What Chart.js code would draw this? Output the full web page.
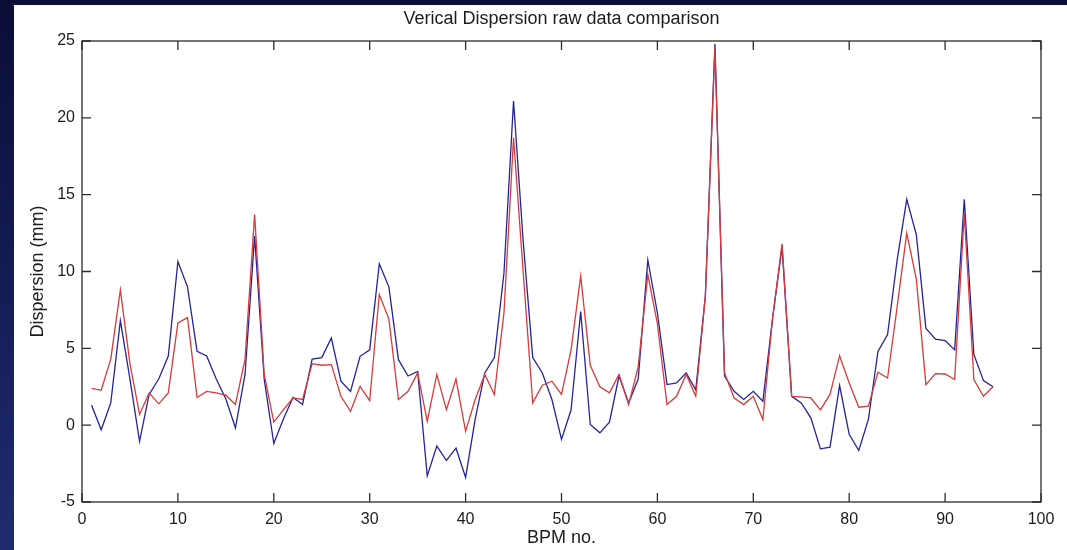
<!DOCTYPE html>
<html>
<head>
<meta charset="utf-8">
<script src="https://cdn.jsdelivr.net/npm/chart.js@4"></script>
<style>
  html, body { margin: 0; padding: 0; }
  body {
    width: 1067px; height: 550px; overflow: hidden; position: relative;
    background: linear-gradient(to bottom, #0b0d36 0%, #141c55 50%, #1f2c6e 100%);
  }
  #paper { position: absolute; left: 14px; top: 5px; right: 0; bottom: 0; background: #ffffff; }
  #myChart { position: absolute; left: 0; top: 0; }
</style>
</head>
<body>
<div id="paper"></div>
<canvas id="myChart" width="1067" height="550"></canvas>
<script>
var bpm = [1,2,3,4,5,6,7,8,9,10,11,12,13,14,15,16,17,18,19,20,
	21,22,23,24,25,26,27,28,29,30,31,32,33,34,35,36,37,38,39,40,
	41,42,43,44,45,46,47,48,49,50,51,52,53,54,55,56,57,58,59,60,
	61,62,63,64,65,66,67,68,69,70,71,72,73,74,75,76,77,78,79,80,
	81,82,83,84,85,86,87,88,89,90,91,92,93,94,95];

var blueValues = [1.3,-0.3,1.45,6.8,3.0,-1.05,2.0,3.0,4.5,10.65,
	9.0,4.8,4.5,3.0,1.7,-0.17,3.3,12.3,3.0,-1.2,
	0.4,1.8,1.35,4.3,4.4,5.67,2.86,2.2,4.48,4.9,
	10.5,9.0,4.26,3.2,3.5,-3.3,-1.36,-2.3,-1.5,-3.4,
	0.4,3.4,4.4,9.9,21.1,12.0,4.4,3.4,1.67,-0.93,
	1.0,7.4,0.04,-0.5,0.2,3.2,1.45,3.0,10.75,7.3,
	2.64,2.75,3.4,2.3,8.4,24.8,3.2,2.2,1.67,2.2,
	1.56,6.9,11.6,1.88,1.45,0.48,-1.54,-1.43,2.58,-0.6,
	-1.65,0.37,4.8,5.9,10.75,14.7,12.4,6.3,5.6,5.5,
	4.9,14.7,4.6,2.9,2.5];

var redValues = [2.4,2.27,4.3,8.8,4.0,0.7,2.1,1.39,2.1,6.65,
	7.0,1.8,2.2,2.1,1.95,1.35,4.3,13.7,3.3,0.2,
	1.0,1.77,1.67,4.0,3.9,3.94,1.88,0.9,2.53,1.6,
	8.5,6.9,1.67,2.2,3.4,0.26,3.3,1.0,3.0,-0.4,
	1.67,3.3,2.0,7.3,18.7,10.0,1.45,2.6,2.86,2.0,
	4.9,9.7,3.9,2.5,2.1,3.3,1.34,3.8,9.8,6.6,
	1.34,1.88,3.3,1.88,8.4,24.6,3.4,1.77,1.34,1.88,
	0.37,6.9,11.8,1.88,1.84,1.77,1.0,2.0,4.52,2.75,
	1.17,1.23,3.44,3.07,7.7,12.5,9.5,2.64,3.35,3.33,
	2.97,13.8,2.97,1.88,2.5];

var xTicks = [0,10,20,30,40,50,60,70,80,90,100];
var yTicks = [-5,0,5,10,15,20,25];

var textColor = "#1c1c1c";
var fontFamily = "'Liberation Sans', Arial, sans-serif";

function toPoints(values) {
	var pts = [];
	for (var i = 0; i < bpm.length; i++) {
		pts.push({ x: bpm[i], y: values[i] });
	}
	return pts;
}

// matlab style box with ticks pointing inwards
var boxPlugin = {
	id: "matlabBox",
	afterDraw: function(chart) {
		var ctx = chart.ctx;
		var a = chart.chartArea;
		var xs = chart.scales.x, ys = chart.scales.y;
		var len = 9;
		ctx.save();
		ctx.strokeStyle = "#2b2b2b";
		ctx.lineWidth = 1.3;
		ctx.strokeRect(a.left, a.top, a.right - a.left, a.bottom - a.top);
		ctx.beginPath();
		xTicks.forEach(function(v) {
			var px = xs.getPixelForValue(v);
			ctx.moveTo(px, a.bottom); ctx.lineTo(px, a.bottom - len);
			ctx.moveTo(px, a.top); ctx.lineTo(px, a.top + len);
		});
		yTicks.forEach(function(v) {
			var py = ys.getPixelForValue(v);
			ctx.moveTo(a.left, py); ctx.lineTo(a.left + len, py);
			ctx.moveTo(a.right, py); ctx.lineTo(a.right - len, py);
		});
		ctx.stroke();
		ctx.restore();
	}
};

var ctx = document.getElementById("myChart");

var myChart = new Chart(ctx, {
	type: "line",
	data: {
		datasets: [
			{
				label: "red",
				data: toPoints(redValues),
				borderColor: "#d83a3a",
				backgroundColor: "#d83a3a",
				borderWidth: 1.3,
				fill: false,
				tension: 0,
				pointRadius: 0,
				order: 0
			},
			{
				label: "blue",
				data: toPoints(blueValues),
				borderColor: "#23239a",
				backgroundColor: "#23239a",
				borderWidth: 1.3,
				fill: false,
				tension: 0,
				pointRadius: 0,
				order: 1
			}
		]
	},
	plugins: [boxPlugin],
	options: {
		responsive: false,
		animation: false,
		layout: { padding: { left: 0, right: 26, top: 0, bottom: 0 } },
		plugins: {
			legend: { display: false },
			tooltip: { enabled: false },
			title: {
				display: true,
				fullSize: false,
				text: "Verical Dispersion raw data comparison",
				color: textColor,
				font: { family: fontFamily, size: 18, weight: "normal" },
				padding: { top: 8, bottom: 11.4 }
			}
		},
		scales: {
			x: {
				type: "linear",
				min: 0,
				max: 100,
				border: { display: false },
				grid: { display: false, drawTicks: false },
				afterBuildTicks: function(scale) {
					scale.ticks = xTicks.map(function(v) { return { value: v }; });
				},
				afterFit: function(scale) { scale.height = 48; },
				ticks: {
					color: textColor,
					padding: 8,
					maxRotation: 0,
					font: { family: fontFamily, size: 16 }
				},
				title: {
					display: true,
					text: "BPM no.",
					color: textColor,
					font: { family: fontFamily, size: 18 },
					padding: { top: 0, bottom: 1 }
				}
			},
			y: {
				min: -5,
				max: 25,
				border: { display: false },
				grid: { display: false, drawTicks: false },
				afterBuildTicks: function(scale) {
					scale.ticks = yTicks.map(function(v) { return { value: v }; });
				},
				afterFit: function(scale) { scale.width = 82; },
				ticks: {
					color: textColor,
					padding: 7,
					font: { family: fontFamily, size: 16 }
				},
				title: {
					display: true,
					text: "Dispersion (mm)",
					color: textColor,
					font: { family: fontFamily, size: 18 },
					padding: { top: 27, bottom: 0 }
				}
			}
		}
	}
});
</script>
</body>
</html>
